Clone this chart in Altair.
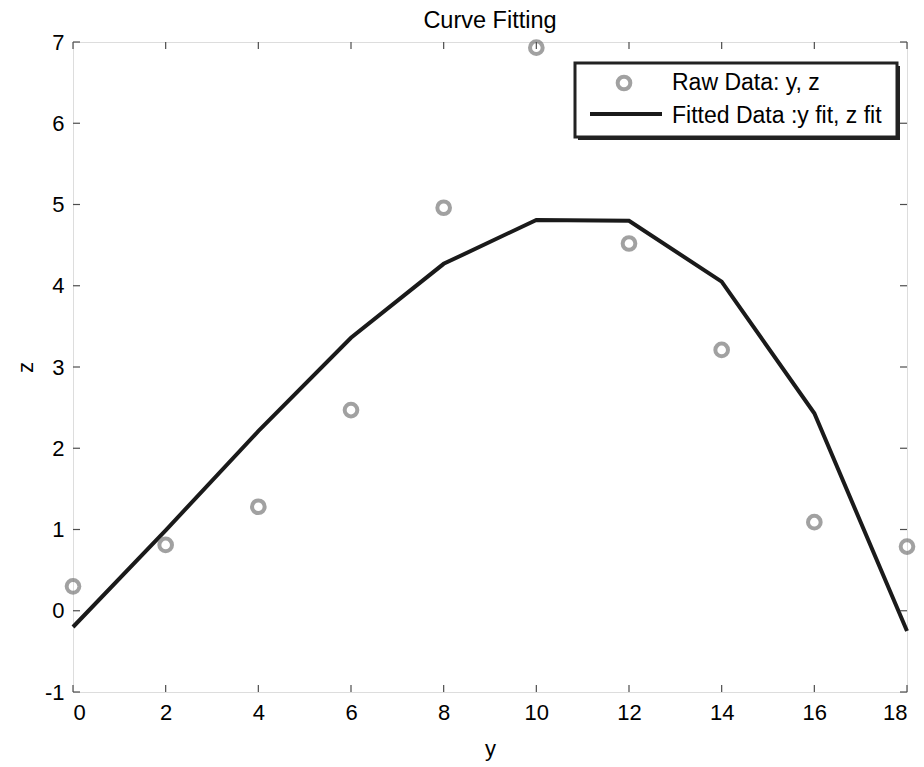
import altair as alt
import pandas as pd

# data
raw_y = [0, 2, 4, 6, 8, 10, 12, 14, 16, 18]
raw_z = [0.30, 0.81, 1.28, 2.47, 4.96, 6.93, 4.52, 3.21, 1.09, 0.79]
fit_y = [0, 2, 4, 6, 8, 10, 12, 14, 16, 18]
fit_z = [-0.20, 0.99, 2.21, 3.36, 4.27, 4.81, 4.80, 4.05, 2.43, -0.25]
x_ticks = [0, 2, 4, 6, 8, 10, 12, 14, 16, 18]
y_ticks = [-1, 0, 1, 2, 3, 4, 5, 6, 7]
legend_labels = ["Raw Data: y, z", "Fitted Data :y fit, z fit"]
title_text = "Curve Fitting"

W, H = 834, 650
FONT = "Liberation Sans"
AX = "#4d4d4d"

raw = pd.DataFrame({"y": raw_y, "z": raw_z})
fit = pd.DataFrame({"y": fit_y, "z": fit_z})
xt = pd.DataFrame({"y": x_ticks})
yt = pd.DataFrame({"z": y_ticks})
one = pd.DataFrame({"a": [0]})

xs = alt.Scale(domain=[0, 18], nice=False, zero=False)
ys = alt.Scale(domain=[-1, 7], nice=False, zero=False)

xaxis = alt.Axis(values=x_ticks, labelExpr="'' + datum.value", title="y", tickSize=0,
                 domain=False, grid=False,
                 labelFontSize=22, labelFont=FONT, labelColor="black", labelPadding=10,
                 titleFontSize=22, titleFont=FONT, titleFontWeight="normal", titleColor="black",
                 titlePadding=15)
yaxis = alt.Axis(values=y_ticks, labelExpr="'' + datum.value", title="z", tickSize=0,
                 domain=False, grid=False,
                 labelFontSize=22, labelFont=FONT, labelColor="black", labelPadding=9,
                 titleFontSize=22, titleFont=FONT, titleFontWeight="normal", titleColor="black",
                 titlePadding=7)

X = alt.X("y:Q", scale=xs, axis=xaxis)
Y = alt.Y("z:Q", scale=ys, axis=yaxis)

line = alt.Chart(fit).mark_line(color="#1a1a1a", strokeWidth=4, clip=False).encode(x=X, y=Y)
points = alt.Chart(raw).mark_point(shape="circle", filled=False, color="#7a7a7a",
                                   strokeWidth=4, size=160, clip=False).encode(x=X, y=Y)

tl = 7
bottom_ticks = alt.Chart(xt).mark_rule(color=AX, strokeWidth=1.2).encode(
    x=X, y=alt.value(H), y2=alt.value(H - tl))
top_ticks = alt.Chart(xt).mark_rule(color=AX, strokeWidth=1.2).encode(
    x=X, y=alt.value(0), y2=alt.value(tl))
left_ticks = alt.Chart(yt).mark_rule(color=AX, strokeWidth=1.2).encode(
    y=Y, x=alt.value(0), x2=alt.value(tl))
right_ticks = alt.Chart(yt).mark_rule(color=AX, strokeWidth=1.2).encode(
    y=Y, x=alt.value(W), x2=alt.value(W - tl))

# chart title as a text mark above the plot
title_mark = alt.Chart(one).mark_text(align="center", baseline="alphabetic", font=FONT,
                                      fontSize=23.5, color="black", text=title_text).encode(
    x=alt.value(W / 2), y=alt.value(-14))

# legend box
lx0, lx1, ly0, ly1 = 502, 824, 21, 95
leg_shadow = alt.Chart(one).mark_rect(color="#222222").encode(
    x=alt.value(lx0 + 3), x2=alt.value(lx1 + 3), y=alt.value(ly0 + 3), y2=alt.value(ly1 + 3))
leg_box = alt.Chart(one).mark_rect(fill="white", stroke="#222222", strokeWidth=3).encode(
    x=alt.value(lx0), x2=alt.value(lx1), y=alt.value(ly0), y2=alt.value(ly1))
leg_pt = alt.Chart(one).mark_point(shape="circle", filled=False, color="#7a7a7a",
                                   strokeWidth=4, size=160).encode(
    x=alt.value(551), y=alt.value(41))
leg_ln = alt.Chart(one).mark_rule(color="#1a1a1a", strokeWidth=4).encode(
    x=alt.value(517), x2=alt.value(589), y=alt.value(72))
leg_t1 = alt.Chart(one).mark_text(align="left", baseline="middle", font=FONT, fontSize=23,
                                  color="black", text=legend_labels[0]).encode(
    x=alt.value(599), y=alt.value(41))
leg_t2 = alt.Chart(one).mark_text(align="left", baseline="middle", font=FONT, fontSize=23,
                                  color="black", text=legend_labels[1], limit=224,
                                  ellipsis="").encode(
    x=alt.value(599), y=alt.value(74))

chart = alt.layer(
    line, points,
    bottom_ticks, top_ticks, left_ticks, right_ticks,
    title_mark,
    leg_shadow, leg_box, leg_pt, leg_ln, leg_t1, leg_t2,
).properties(
    width=W, height=H,
    autosize=alt.AutoSizeParams(type="none"),
    padding={"left": 65, "top": 34, "right": 9, "bottom": 74},
).configure_view(stroke=AX, strokeWidth=1.2).configure(background="white")

chart.save("out.html", embed_options={"renderer": "svg", "actions": False})
